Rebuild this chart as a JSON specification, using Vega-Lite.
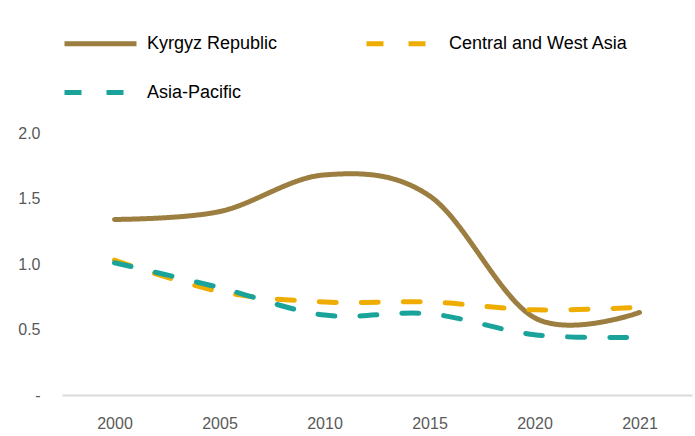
{
  "$schema": "https://vega.github.io/schema/vega-lite/v6.json",
  "width": 630,
  "height": 262,
  "autosize": {"type": "none"},
  "padding": {"left": 62, "top": 133, "right": 3, "bottom": 41},
  "background": "white",
  "config": {"view": {"stroke": null}, "font": "Liberation Sans"},
  "data": {"values": [
    {"year": "2000", "series": "Kyrgyz Republic", "value": 1.34},
    {"year": "2005", "series": "Kyrgyz Republic", "value": 1.40},
    {"year": "2010", "series": "Kyrgyz Republic", "value": 1.68},
    {"year": "2015", "series": "Kyrgyz Republic", "value": 1.52},
    {"year": "2020", "series": "Kyrgyz Republic", "value": 0.59},
    {"year": "2021", "series": "Kyrgyz Republic", "value": 0.63},
    {"year": "2000", "series": "Central and West Asia", "value": 1.03},
    {"year": "2005", "series": "Central and West Asia", "value": 0.79},
    {"year": "2010", "series": "Central and West Asia", "value": 0.71},
    {"year": "2015", "series": "Central and West Asia", "value": 0.71},
    {"year": "2020", "series": "Central and West Asia", "value": 0.65},
    {"year": "2021", "series": "Central and West Asia", "value": 0.67},
    {"year": "2000", "series": "Asia-Pacific", "value": 1.01},
    {"year": "2005", "series": "Asia-Pacific", "value": 0.82},
    {"year": "2010", "series": "Asia-Pacific", "value": 0.61},
    {"year": "2015", "series": "Asia-Pacific", "value": 0.62},
    {"year": "2020", "series": "Asia-Pacific", "value": 0.46},
    {"year": "2021", "series": "Asia-Pacific", "value": 0.44}
  ]},
  "mark": {"type": "line", "interpolate": "cardinal", "strokeWidth": 5, "strokeCap": "round"},
  "encoding": {
    "x": {
      "field": "year", "type": "ordinal",
      "scale": {"type": "point", "padding": 0.5},
      "axis": {"title": null, "labelAngle": 0, "ticks": false, "domainColor": "#D9D9D9", "domainWidth": 2, "labelFontSize": 16, "labelColor": "#595959", "labelPadding": 20}
    },
    "y": {
      "field": "value", "type": "quantitative",
      "scale": {"domain": [0, 2]},
      "axis": {"title": null, "values": [0, 0.5, 1, 1.5, 2], "grid": false, "domain": false, "ticks": false, "labelFontSize": 16, "labelColor": "#595959", "labelPadding": 22, "labelExpr": "datum.value == 0 ? '-' : format(datum.value, '.1f')"}
    },
    "color": {
      "field": "series", "type": "nominal",
      "scale": {"domain": ["Kyrgyz Republic", "Central and West Asia", "Asia-Pacific"], "range": ["#9B7E40", "#EEAD00", "#1AA39A"]},
      "legend": {
        "title": null, "orient": "none", "legendX": 0, "legendY": -128, "direction": "horizontal", "columns": 2,
        "symbolType": "stroke", "symbolSize": 5184, "symbolStrokeWidth": 5, "labelFontSize": 18, "labelColor": "#000000", "labelLimit": 400,
        "columnPadding": 78, "rowPadding": -46, "labelOffset": 8
      }
    },
    "strokeDash": {
      "field": "series", "type": "nominal",
      "scale": {"domain": ["Kyrgyz Republic", "Central and West Asia", "Asia-Pacific"], "range": [[1, 0], [17, 25], [17, 25]]},
      "legend": null
    }
  }
}
